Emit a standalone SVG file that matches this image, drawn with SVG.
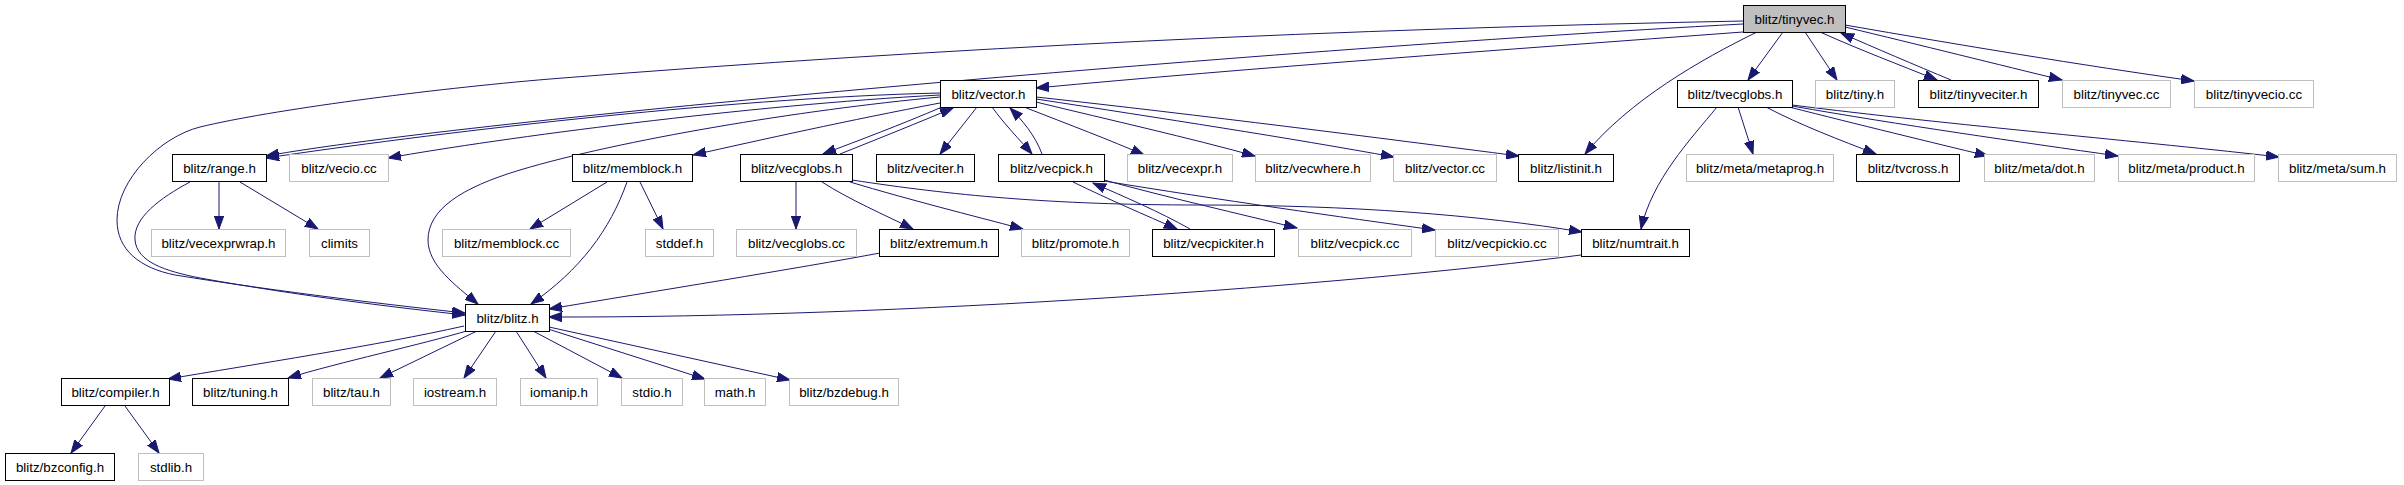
<svg xmlns="http://www.w3.org/2000/svg" width="2404" height="485" viewBox="0 0 2404 485">
<defs>
<marker id="a" markerWidth="14" markerHeight="10" refX="13" refY="5" orient="auto" markerUnits="userSpaceOnUse">
<path d="M0,0.3 L13,5 L0,9.7 Z" fill="#191970" stroke="#191970" stroke-width="1"/>
</marker>
</defs>
<style>
.node rect{fill:#ffffff;stroke:#000000;stroke-width:1}
.node.ext rect{stroke:#bfbfbf}
.node.root rect{fill:#bfbfbf}
.node text{font-family:"Liberation Sans",Arial,Helvetica,sans-serif;font-size:13.33px;fill:#000000;text-anchor:middle}
#edges path{fill:none;stroke:#191970;stroke-width:1;marker-end:url(#a)}
</style>
<rect width="2404" height="485" fill="#ffffff"/>
<g id="edges">
<path d="M1743,21 C1343,29 950,47 550,79 C430,89 270,110 200,127 C160,137 117,180 117,220 C117,250 140,268 175,275 C280,292 400,306 465,313"/>
<path d="M190,182 C160,198 133,218 135,240 C137,262 165,271 200,278 C300,296 400,308 465,315"/>
<path d="M1743,24 C1243,51 466,120 266,156"/>
<path d="M1743,32 C1500,50 1250,68 1036,88"/>
<path d="M940,93 C720,98 420,135 266,158"/>
<path d="M940,95 C750,105 500,138 388,158"/>
<path d="M940,97 C800,110 620,140 520,170 C460,188 428,210 428,240 C428,265 455,285 478,304"/>
<path d="M940,103 C850,120 760,140 693,155"/>
<path d="M942,107 C900,125 860,140 823,154"/>
<path d="M840,154 C880,138 920,122 953,108"/>
<path d="M977,107 L940,154"/>
<path d="M992,107 C1005,125 1020,140 1032,154"/>
<path d="M1042,154 C1035,135 1022,120 1010,108"/>
<path d="M1024,107 C1070,125 1110,140 1144,155"/>
<path d="M1036,102 C1110,120 1190,138 1255,156"/>
<path d="M1036,99 C1160,118 1290,138 1394,157"/>
<path d="M1036,97 C1200,115 1380,138 1519,156"/>
<path d="M1757,32 C1700,60 1630,100 1585,154"/>
<path d="M1783,32 L1748,80"/>
<path d="M1805,32 L1837,80"/>
<path d="M1820,32 C1860,50 1900,65 1937,80"/>
<path d="M1951,80 C1915,65 1875,48 1841,33"/>
<path d="M1845,27 C1920,45 2000,65 2062,80"/>
<path d="M1845,25 C1960,45 2080,65 2194,81"/>
<path d="M1717,107 C1690,140 1652,180 1641,229"/>
<path d="M1738,107 L1753,154"/>
<path d="M1766,107 C1800,125 1840,140 1876,154"/>
<path d="M1789,107 C1860,125 1930,142 1988,156"/>
<path d="M1792,106 C1900,125 2020,142 2118,156"/>
<path d="M1792,105 C1950,125 2150,142 2279,157"/>
<path d="M219,182 L219,229"/>
<path d="M240,182 L318,229"/>
<path d="M607,182 L530,229"/>
<path d="M627,182 C610,230 580,270 531,304"/>
<path d="M640,182 L663,229"/>
<path d="M796,182 L796,229"/>
<path d="M822,182 C850,200 885,215 913,229"/>
<path d="M850,182 C910,200 970,215 1023,229"/>
<path d="M852,180 C950,195 1050,205 1200,205 C1350,205 1480,215 1582,232"/>
<path d="M1073,182 C1110,200 1145,215 1177,229"/>
<path d="M1190,229 C1160,212 1125,197 1093,183"/>
<path d="M1104,180 C1170,198 1240,214 1297,228"/>
<path d="M1104,181 C1220,200 1340,217 1435,230"/>
<path d="M880,253 C800,268 650,292 549,309"/>
<path d="M1581,255 C1350,285 900,318 549,317"/>
<path d="M464,326 C380,345 250,365 168,379"/>
<path d="M470,330 C420,345 340,362 288,378"/>
<path d="M477,331 L380,378"/>
<path d="M496,331 L464,378"/>
<path d="M516,331 L546,378"/>
<path d="M533,331 L622,378"/>
<path d="M548,329 L705,379"/>
<path d="M549,327 L790,380"/>
<path d="M105,406 L71,453"/>
<path d="M125,406 L159,453"/>
</g>
<g id="n_tinyvec_h" class="node root"><rect x="1743.5" y="5.5" width="102" height="27"/><text x="1794.5" y="23.5">blitz/tinyvec.h</text></g>
<g id="n_vector_h" class="node"><rect x="940.5" y="80.5" width="96" height="27"/><text x="988.5" y="98.5">blitz/vector.h</text></g>
<g id="n_tvecglobs_h" class="node"><rect x="1677.5" y="80.5" width="115" height="27"/><text x="1735" y="98.5">blitz/tvecglobs.h</text></g>
<g id="n_tiny_h" class="node ext"><rect x="1815.5" y="80.5" width="79" height="27"/><text x="1855" y="98.5">blitz/tiny.h</text></g>
<g id="n_tinyveciter_h" class="node"><rect x="1918.5" y="80.5" width="120" height="27"/><text x="1978.5" y="98.5">blitz/tinyveciter.h</text></g>
<g id="n_tinyvec_cc" class="node ext"><rect x="2062.5" y="80.5" width="108" height="27"/><text x="2116.5" y="98.5">blitz/tinyvec.cc</text></g>
<g id="n_tinyvecio_cc" class="node ext"><rect x="2194.5" y="80.5" width="119" height="27"/><text x="2254" y="98.5">blitz/tinyvecio.cc</text></g>
<g id="n_range_h" class="node"><rect x="172.5" y="154.5" width="94" height="27"/><text x="219.5" y="172.5">blitz/range.h</text></g>
<g id="n_vecio_cc" class="node ext"><rect x="289.5" y="154.5" width="99" height="27"/><text x="339" y="172.5">blitz/vecio.cc</text></g>
<g id="n_memblock_h" class="node"><rect x="572.5" y="154.5" width="120" height="27"/><text x="632.5" y="172.5">blitz/memblock.h</text></g>
<g id="n_vecglobs_h" class="node"><rect x="740.5" y="154.5" width="112" height="27"/><text x="796.5" y="172.5">blitz/vecglobs.h</text></g>
<g id="n_veciter_h" class="node"><rect x="876.5" y="154.5" width="98" height="27"/><text x="925.5" y="172.5">blitz/veciter.h</text></g>
<g id="n_vecpick_h" class="node"><rect x="998.5" y="154.5" width="106" height="27"/><text x="1051.5" y="172.5">blitz/vecpick.h</text></g>
<g id="n_vecexpr_h" class="node ext"><rect x="1127.5" y="154.5" width="105" height="27"/><text x="1180" y="172.5">blitz/vecexpr.h</text></g>
<g id="n_vecwhere_h" class="node ext"><rect x="1255.5" y="154.5" width="115" height="27"/><text x="1313" y="172.5">blitz/vecwhere.h</text></g>
<g id="n_vector_cc" class="node ext"><rect x="1393.5" y="154.5" width="103" height="27"/><text x="1445" y="172.5">blitz/vector.cc</text></g>
<g id="n_listinit_h" class="node"><rect x="1518.5" y="154.5" width="95" height="27"/><text x="1566" y="172.5">blitz/listinit.h</text></g>
<g id="n_metaprog_h" class="node ext"><rect x="1686.5" y="154.5" width="147" height="27"/><text x="1760" y="172.5">blitz/meta/metaprog.h</text></g>
<g id="n_tvcross_h" class="node"><rect x="1856.5" y="154.5" width="103" height="27"/><text x="1908" y="172.5">blitz/tvcross.h</text></g>
<g id="n_dot_h" class="node ext"><rect x="1984.5" y="154.5" width="110" height="27"/><text x="2039.5" y="172.5">blitz/meta/dot.h</text></g>
<g id="n_product_h" class="node ext"><rect x="2118.5" y="154.5" width="136" height="27"/><text x="2186.5" y="172.5">blitz/meta/product.h</text></g>
<g id="n_sum_h" class="node ext"><rect x="2278.5" y="154.5" width="118" height="27"/><text x="2337.5" y="172.5">blitz/meta/sum.h</text></g>
<g id="n_vecexprwrap_h" class="node ext"><rect x="151.5" y="229.5" width="134" height="27"/><text x="218.5" y="247.5">blitz/vecexprwrap.h</text></g>
<g id="n_climits" class="node ext"><rect x="309.5" y="229.5" width="60" height="27"/><text x="339.5" y="247.5">climits</text></g>
<g id="n_memblock_cc" class="node ext"><rect x="442.5" y="229.5" width="128" height="27"/><text x="506.5" y="247.5">blitz/memblock.cc</text></g>
<g id="n_stddef_h" class="node ext"><rect x="645.5" y="229.5" width="68" height="27"/><text x="679.5" y="247.5">stddef.h</text></g>
<g id="n_vecglobs_cc" class="node ext"><rect x="736.5" y="229.5" width="120" height="27"/><text x="796.5" y="247.5">blitz/vecglobs.cc</text></g>
<g id="n_extremum_h" class="node"><rect x="879.5" y="229.5" width="119" height="27"/><text x="939" y="247.5">blitz/extremum.h</text></g>
<g id="n_promote_h" class="node ext"><rect x="1021.5" y="229.5" width="108" height="27"/><text x="1075.5" y="247.5">blitz/promote.h</text></g>
<g id="n_vecpickiter_h" class="node"><rect x="1152.5" y="229.5" width="122" height="27"/><text x="1213.5" y="247.5">blitz/vecpickiter.h</text></g>
<g id="n_vecpick_cc" class="node ext"><rect x="1298.5" y="229.5" width="113" height="27"/><text x="1355" y="247.5">blitz/vecpick.cc</text></g>
<g id="n_vecpickio_cc" class="node ext"><rect x="1435.5" y="229.5" width="123" height="27"/><text x="1497" y="247.5">blitz/vecpickio.cc</text></g>
<g id="n_numtrait_h" class="node"><rect x="1581.5" y="229.5" width="108" height="27"/><text x="1635.5" y="247.5">blitz/numtrait.h</text></g>
<g id="n_blitz_h" class="node"><rect x="465.5" y="304.5" width="84" height="27"/><text x="507.5" y="322.5">blitz/blitz.h</text></g>
<g id="n_compiler_h" class="node"><rect x="61.5" y="378.5" width="108" height="27"/><text x="115.5" y="396.5">blitz/compiler.h</text></g>
<g id="n_tuning_h" class="node"><rect x="192.5" y="378.5" width="96" height="27"/><text x="240.5" y="396.5">blitz/tuning.h</text></g>
<g id="n_tau_h" class="node ext"><rect x="312.5" y="378.5" width="78" height="27"/><text x="351.5" y="396.5">blitz/tau.h</text></g>
<g id="n_iostream_h" class="node ext"><rect x="413.5" y="378.5" width="83" height="27"/><text x="455" y="396.5">iostream.h</text></g>
<g id="n_iomanip_h" class="node ext"><rect x="520.5" y="378.5" width="77" height="27"/><text x="559" y="396.5">iomanip.h</text></g>
<g id="n_stdio_h" class="node ext"><rect x="621.5" y="378.5" width="61" height="27"/><text x="652" y="396.5">stdio.h</text></g>
<g id="n_math_h" class="node ext"><rect x="704.5" y="378.5" width="61" height="27"/><text x="735" y="396.5">math.h</text></g>
<g id="n_bzdebug_h" class="node ext"><rect x="789.5" y="378.5" width="109" height="27"/><text x="844" y="396.5">blitz/bzdebug.h</text></g>
<g id="n_bzconfig_h" class="node"><rect x="5.5" y="453.5" width="109" height="27"/><text x="60" y="471.5">blitz/bzconfig.h</text></g>
<g id="n_stdlib_h" class="node ext"><rect x="138.5" y="453.5" width="65" height="27"/><text x="171" y="471.5">stdlib.h</text></g>
</svg>
